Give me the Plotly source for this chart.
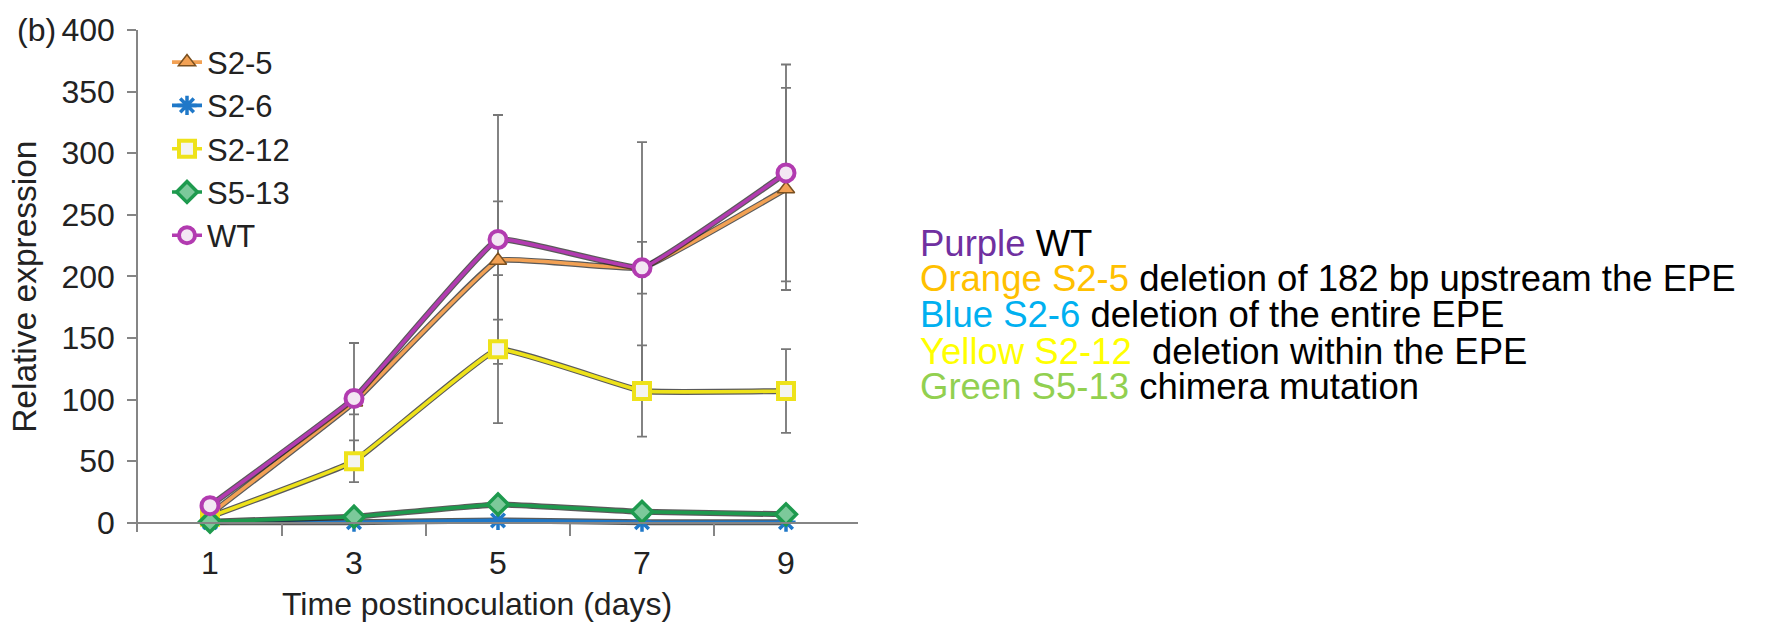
import plotly.graph_objects as go

# Sampling days and measured relative expression per line
days = [1, 3, 5, 7, 9]
series_names = ["S2-5", "S2-6", "S2-12", "S5-13", "WT"]

s2_5 = [7, 98, 213, 207, 271]
s2_5_err = [2, 10, 48, 21, 82]

s2_6 = [0.5, 0.5, 2, 0.5, 0.5]
s2_6_err = [0.3, 0.3, 0.5, 0.3, 0.3]

s2_12 = [5, 50, 141, 107, 107]
s2_12_err = [1, 17, 60, 37, 34]

s5_13 = [1, 5, 15, 9, 7]
s5_13_err = [0.5, 1, 2, 1, 1]

wt = [14, 101, 230, 207, 284]
wt_err = [3, 45, 101, 102, 88]

x_tick_labels = ["1", "3", "5", "7", "9"]
y_tick_vals = [0, 50, 100, 150, 200, 250, 300, 350, 400]

# Description lines shown to the right of the chart: (coloured part, colour, rest)
notes = [
    ("Purple", "#7030A0", " WT"),
    ("Orange S2-5", "#FFC000", " deletion of 182 bp upstream the EPE"),
    ("Blue S2-6", "#00B0F0", " deletion of the entire EPE"),
    ("Yellow S2-12", "#FFFF00", "  deletion within the EPE"),
    ("Green S5-13", "#92D050", " chimera mutation"),
]

W, H = 1769, 623
ML, MT = 138, 24.5
X_MAX = 10
Y_MIN, Y_MAX = -7.4, 400
PW = 72 * X_MAX
PH = 507.2
MR = W - ML - PW
MB = H - MT - PH

FONT = "Liberation Sans, Arial, sans-serif"
AXIS_GREY = "#858585"
TEXT_COL = "#222222"


def px_x(px):
    return (px - ML) / PW


def px_y(py):
    return 1 - (py - MT) / PH


styles = {
    "S2-5": dict(color="#F2A154", symbol="triangle-up", size=15, fill="#F2A154", lw=1.5, edge="#7a5020"),
    "S2-6": dict(color="#1F78C8", symbol="asterisk-open", size=16, fill="#1F78C8", lw=3.5, edge="#1F78C8"),
    "S2-12": dict(color="#EEE21A", symbol="square", size=16, fill="#F4F4F0", lw=4, edge="#EEE21A"),
    "S5-13": dict(color="#1E9A4E", symbol="diamond", size=16, fill="#7CC99A", lw=3.5, edge="#1E9A4E"),
    "WT": dict(color="#B23BB0", symbol="circle", size=17, fill="#F3E6F3", lw=4, edge="#B23BB0"),
}

values = {"S2-5": s2_5, "S2-6": s2_6, "S2-12": s2_12, "S5-13": s5_13, "WT": wt}
errors = {"S2-5": s2_5_err, "S2-6": s2_6_err, "S2-12": s2_12_err, "S5-13": s5_13_err, "WT": wt_err}

fig = go.Figure()

# Error bars first, so every line sits on top of them
for name in series_names:
    fig.add_trace(go.Scatter(
        x=days, y=values[name], mode="markers",
        marker=dict(size=1, color="rgba(0,0,0,0)"),
        error_y=dict(type="data", array=errors[name], visible=True,
                     color="#777777", thickness=1.8, width=5),
        showlegend=False, hoverinfo="skip", cliponaxis=False,
    ))

# Each line gets a dark under-stroke, then the coloured line with markers
for name in series_names:
    st = styles[name]
    fig.add_trace(go.Scatter(
        x=days, y=values[name], mode="lines",
        line=dict(color="rgba(35,35,35,0.75)", width=6, shape="spline", smoothing=0.25),
        showlegend=False, hoverinfo="skip", legendgroup=name, cliponaxis=False,
    ))
    fig.add_trace(go.Scatter(
        x=days, y=values[name], mode="lines+markers", name=name,
        legendgroup=name,
        line=dict(color=st["color"], width=3.6, shape="spline", smoothing=0.25),
        marker=dict(symbol=st["symbol"], size=st["size"], color=st["fill"],
                    line=dict(color=st["edge"], width=st["lw"])),
        cliponaxis=False,
    ))

annotations = [
    dict(text="(b)", x=px_x(15), y=px_y(25), xref="paper", yref="paper",
         xanchor="left", yanchor="middle", showarrow=False,
         font=dict(family=FONT, size=32, color=TEXT_COL)),
    dict(text="Relative expression", x=px_x(25), y=px_y(284), xref="paper", yref="paper",
         xanchor="center", yanchor="middle", textangle=-90, showarrow=False,
         font=dict(family=FONT, size=33.5, color=TEXT_COL)),
    dict(text="Time postinoculation (days)", x=px_x(477), y=px_y(604), xref="paper", yref="paper",
         xanchor="center", yanchor="middle", showarrow=False,
         font=dict(family=FONT, size=32, color=TEXT_COL)),
]

line_y = [240, 276, 312, 349, 385]
for (head, col, rest), ly in zip(notes, line_y):
    annotations.append(dict(
        text=f'<span style="color:{col}">{head}</span>{rest}',
        x=px_x(919), y=px_y(ly), xref="paper", yref="paper",
        xanchor="left", yanchor="middle", showarrow=False, borderpad=0,
        font=dict(family=FONT, size=36.5, color="#000000"),
    ))

fig.update_layout(
    width=W, height=H,
    margin=dict(l=ML, r=MR, t=MT, b=MB, pad=0),
    paper_bgcolor="white", plot_bgcolor="white",
    showlegend=True,
    legend=dict(
        x=px_x(167), y=px_y(30), xanchor="left", yanchor="top",
        bgcolor="rgba(0,0,0,0)", borderwidth=0,
        font=dict(family=FONT, size=31, color=TEXT_COL),
        traceorder="grouped", tracegroupgap=0,
    ),
    xaxis=dict(
        range=[0, X_MAX], anchor="free", position=(0 - Y_MIN) / (Y_MAX - Y_MIN),
        showline=True, linecolor=AXIS_GREY, linewidth=1.6,
        tickmode="array", tickvals=days, ticktext=x_tick_labels,
        ticks="outside", ticklen=12, tickcolor="rgba(0,0,0,0)",
        minor=dict(tickmode="array", tickvals=[2, 4, 6, 8], ticks="outside",
                   ticklen=12, tickwidth=1.6, tickcolor=AXIS_GREY, showgrid=False),
        showgrid=False, zeroline=False,
        tickfont=dict(family=FONT, size=32, color=TEXT_COL),
    ),
    yaxis=dict(
        range=[Y_MIN, Y_MAX],
        showline=True, linecolor=AXIS_GREY, linewidth=1.6,
        tickmode="array", tickvals=y_tick_vals,
        ticks="outside", ticklen=9, tickwidth=1.6, tickcolor=AXIS_GREY,
        showgrid=False, zeroline=False,
        tickfont=dict(family=FONT, size=32, color=TEXT_COL),
        ticklabelstandoff=6,
    ),
    annotations=annotations,
)

fig.write_html("out.html")
